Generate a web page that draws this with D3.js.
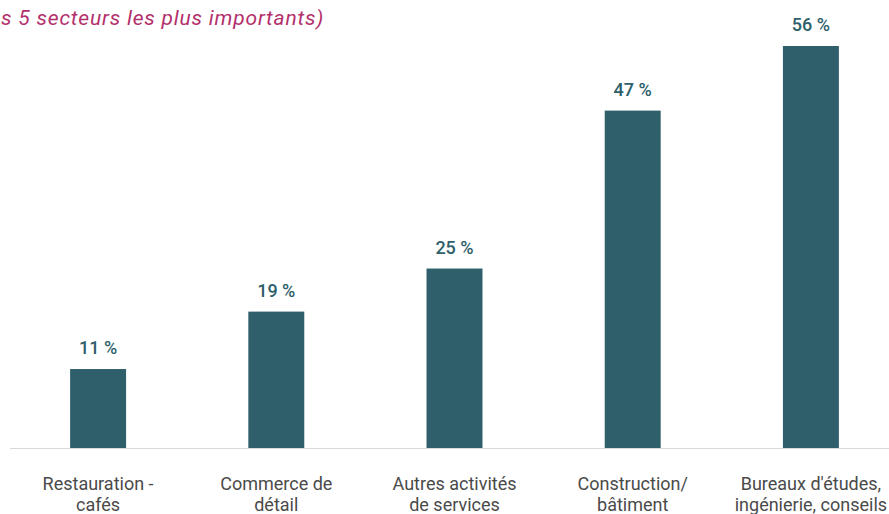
<!DOCTYPE html>
<html lang="fr">
<head>
<meta charset="utf-8">
<script src="https://cdn.jsdelivr.net/npm/d3@7"></script>
<style>
  html, body { margin: 0; padding: 0; background: #fff; overflow: hidden; }
  svg { display: block; }
</style>
</head>
<body>
<svg id="chart" width="889" height="514"></svg>
<script>
// Share of firms per sector (top five sectors)
const categories = [
  ["Restauration -", "cafés"],
  ["Commerce de", "détail"],
  ["Autres activités", "de services"],
  ["Construction/", "bâtiment"],
  ["Bureaux d'études,", "ingénierie, conseils"]
];
const values = [11, 19, 25, 47, 56];
const valueLabels = values.map(v => v + " %");
const subtitle = "s 5 secteurs les plus importants)";

const svg = d3.select("#chart");
const baseY = 448;
const font = "Roboto, 'Open Sans', sans-serif";

const x = d3.scaleBand()
  .domain(d3.range(categories.length))
  .range([9, 900])
  .paddingInner(0.686)
  .paddingOuter(0.343);

const y = d3.scaleLinear()
  .domain([0, 56])
  .range([baseY, 46]);

// subtitle (tail end of the heading line)
svg.append("text")
  .attr("x", 1)
  .attr("y", 25)
  .attr("text-anchor", "start")
  .attr("font-family", font)
  .attr("font-style", "italic")
  .attr("font-size", 21)
  .attr("letter-spacing", 0.8)
  .attr("fill", "#b3306c")
  .text(subtitle);

// bars
svg.append("g").selectAll("rect")
  .data(values)
  .join("rect")
  .attr("x", (d, i) => x(i))
  .attr("width", x.bandwidth())
  .attr("y", d => y(d))
  .attr("height", d => y(0) - y(d))
  .attr("fill", "#2e5f6b");

// baseline
svg.append("line")
  .attr("x1", 10).attr("x2", 889)
  .attr("y1", baseY + 0.5).attr("y2", baseY + 0.5)
  .attr("stroke", "#d9d9d9")
  .attr("stroke-width", 1);

// value labels
svg.append("g").selectAll("text")
  .data(values)
  .join("text")
  .attr("x", (d, i) => x(i) + x.bandwidth() / 2)
  .attr("y", d => y(d) - 15)
  .attr("text-anchor", "middle")
  .attr("font-family", font)
  .attr("font-weight", 500)
  .attr("font-size", 18)
  .attr("fill", "#2e5f6b")
  .text((d, i) => valueLabels[i]);

// category labels
const cat = svg.append("g").selectAll("text")
  .data(categories)
  .join("text")
  .attr("x", (d, i) => x(i) + x.bandwidth() / 2)
  .attr("y", 490)
  .attr("text-anchor", "middle")
  .attr("font-family", font)
  .attr("font-size", 18)
  .attr("fill", "#4a4a4a");

cat.selectAll("tspan")
  .data(d => d)
  .join("tspan")
  .attr("x", function() { return this.parentNode.getAttribute("x"); })
  .attr("dy", (d, i) => i === 0 ? 0 : 21)
  .text(d => d);
</script>
</body>
</html>
